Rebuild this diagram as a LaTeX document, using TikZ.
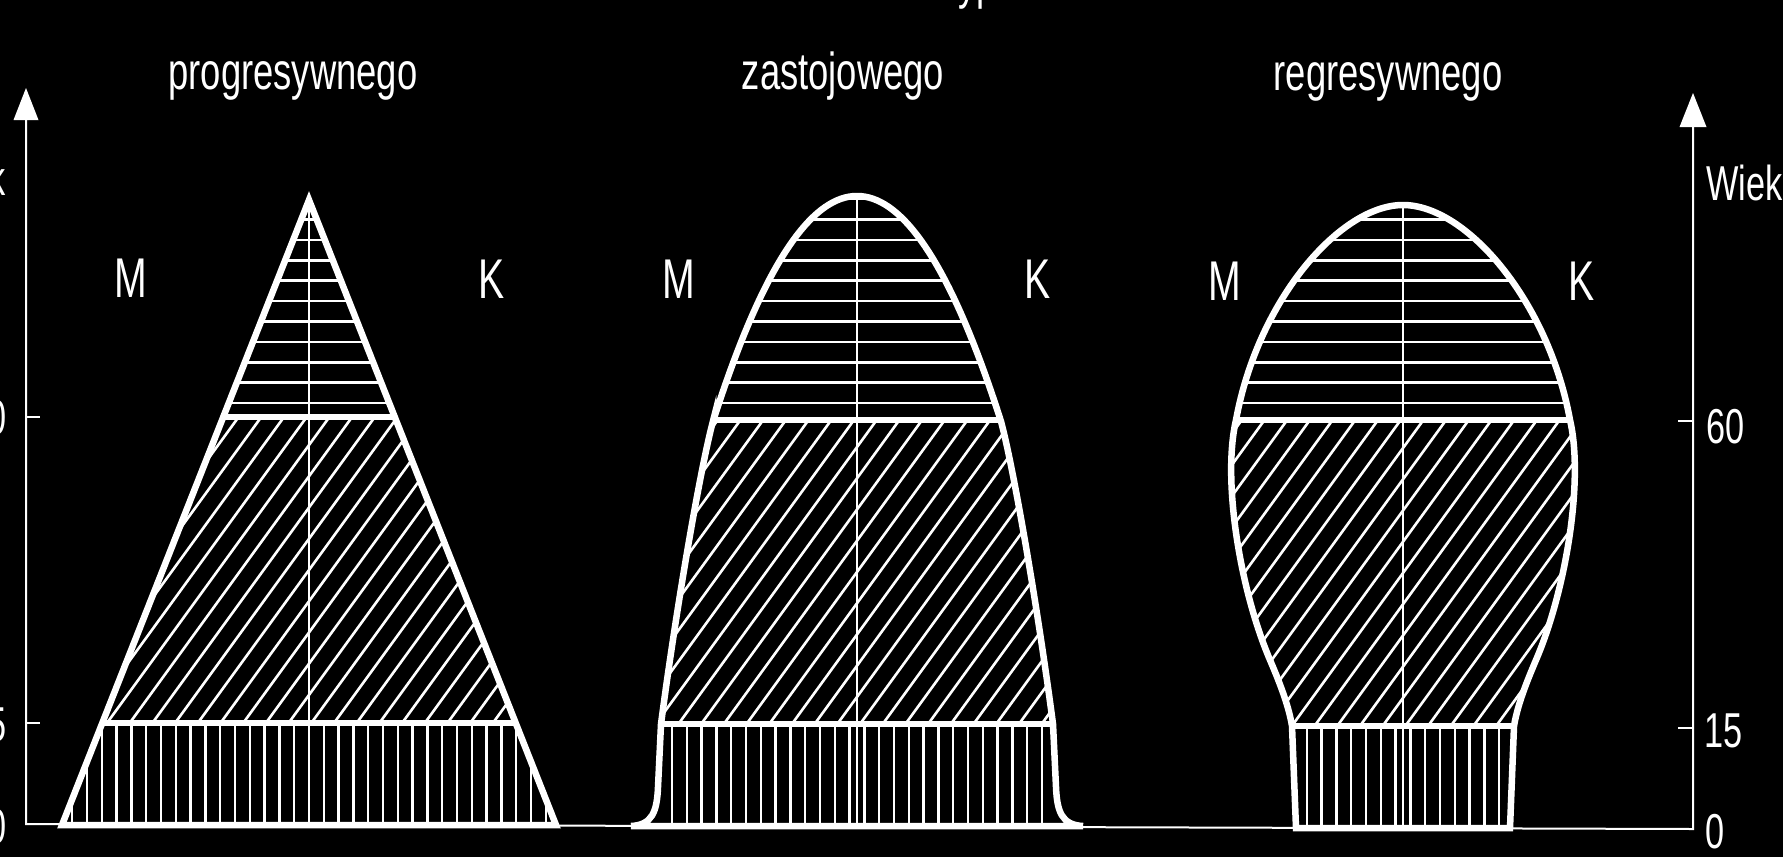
\documentclass[tikz,border=0pt]{standalone}
\usepackage{fontspec}
\setmainfont[FakeStretch=0.70]{Liberation Sans}
\tikzset{
  outline/.style={draw=white, line width=6.5pt, line join=miter},
  band/.style={draw=white, line width=6.5pt},
  hatch/.style={draw=white, line width=2.6pt},
  vhatch/.style={draw=white, line width=2.3pt},
  cline/.style={draw=white, line width=1.8pt},
  axisline/.style={draw=white, line width=2pt},
  ttl/.style={text=white, inner sep=0pt, font=\fontsize{52}{60}\selectfont},
  sexlab/.style={text=white, inner sep=0pt, font=\fontsize{56}{64}\selectfont},
  agelab/.style={text=white, inner sep=0pt, font=\fontsize{49}{56}\selectfont}
}
% #1 path macro, #2 centre x, #3 y of 60, #4 y of 15, #5 y of 0, #6 half width of bottom hatch, #7 phase
\newcommand{\drawpyramid}[7]{%
  \begin{scope}
    \clip #1;
    \begin{scope}
      \clip (#2-320,0) rectangle (#2+320,#3);
      \foreach \k in {0,...,11} \draw[hatch] (#2-320,403-20.4*\k) -- (#2+320,403-20.4*\k);
    \end{scope}
    \begin{scope}
      \clip (#2-320,#3) rectangle (#2+320,#4);
      \foreach \k in {-26,...,26} \draw[hatch] (#2+22.7*\k-250,{(#3+#4)/2+344}) -- ++(500,-688);
    \end{scope}
    \begin{scope}
      \clip (#2-#6,#4) rectangle (#2+#6,#5);
      \foreach \k in {-20,...,20} \draw[vhatch] (#2+#7+14.8*\k,#4) -- ++(0,130);
    \end{scope}
    \draw[cline] (#2,0) -- (#2,900);
    \draw[band] (#2-320,#3) -- (#2+320,#3);
    \draw[band] (#2-320,#4) -- (#2+320,#4);
  \end{scope}
  \draw[outline] #1;
}
\def\progpath{(62,825) -- (309,200) -- (556,825) -- cycle}
\def\zastpath{(631,826) .. controls (652,825) and (657,812) .. (658,787) -- (661,724) .. controls (676,610) and (700,470) .. (713,421) -- plot[domain=-144:144, samples=73] ({857+\x},{196+(\x/92)*\x}) .. controls (1014,470) and (1038,610) .. (1053,724) -- (1056,787) .. controls (1057,812) and (1062,825) .. (1083,826) -- cycle}
\def\regpath{(1296,828) -- (1292,726) .. controls (1289,708) and (1282,688) .. (1270,660) .. controls (1240,590) and (1222,480) .. (1236,420) .. controls (1258,300) and (1340,205) .. (1403,205) .. controls (1466,205) and (1548,300) .. (1570,420) .. controls (1584,480) and (1566,590) .. (1536,660) .. controls (1524,688) and (1517,708) .. (1514,726) -- (1510,828) -- cycle}
\begin{document}
\begin{tikzpicture}[x=1pt,y=-1pt]
  \useasboundingbox (0,0) rectangle (1783,857);
  \fill[black] (0,0) rectangle (1783,857);
  % axes
  \coordinate (ltip) at (26,88);
  \coordinate (ltop) at (26,120);
  \coordinate (lbot) at (26,824);
  \coordinate (rbot) at (1693,829);
  \coordinate (rtop) at (1693,127);
  \coordinate (rtip) at (1693,93);
  \draw[axisline] (ltop) -- (lbot) -- (rbot) -- (rtop);
  \fill[white] (ltip) -- (38.5,120) -- (13.5,120) -- cycle;
  \fill[white] (rtip) -- (1706.5,127) -- (1679.5,127) -- cycle;
  \draw[axisline] (26,417) -- (40,417);
  \draw[axisline] (26,723) -- (40,723);
  \draw[axisline] (1678,421) -- (1693,421);
  \draw[axisline] (1678,728) -- (1693,728);
  % pyramids
  \drawpyramid{\progpath}{309}{417}{723}{825}{260}{0}
  \drawpyramid{\zastpath}{857}{420}{724}{826}{193}{7.4}
  \drawpyramid{\regpath}{1403}{420}{726}{828}{125}{7.4}
  % texts
  \node[ttl, anchor=base west] (title) at (948,-2) {typu};
  \node[ttl, anchor=base] (tprog) at (293,89) {progresywnego};
  \node[ttl, anchor=base] (tzast) at (843,89) {zastojowego};
  \node[ttl, anchor=base] (treg) at (1388,90) {regresywnego};
  \node[sexlab, anchor=base] (m1) at (131,297) {M};
  \node[sexlab, anchor=base] (k1) at (492,298) {K};
  \node[sexlab, anchor=base] (m2) at (679,298) {M};
  \node[sexlab, anchor=base] (k2) at (1038,298) {K};
  \node[sexlab, anchor=base] (m3) at (1225,300) {M};
  \node[sexlab, anchor=base] (k3) at (1582,300) {K};
  \node[agelab, anchor=base west] (rw) at (1706,200) {Wiek};
  \node[agelab, anchor=base west] (r60) at (1706.5,443) {60};
  \node[agelab, anchor=base west] (r15) at (1704,747) {15};
  \node[agelab, anchor=base west] (r0) at (1705.5,848) {0};
  \node[agelab, anchor=base east] (lw) at (6,195) {Wiek};
  \node[agelab, anchor=base east] (l60) at (7,434) {60};
  \node[agelab, anchor=base east] (l15) at (7,741) {15};
  \node[agelab, anchor=base east] (l0) at (7,843) {0};
\end{tikzpicture}
\end{document}
